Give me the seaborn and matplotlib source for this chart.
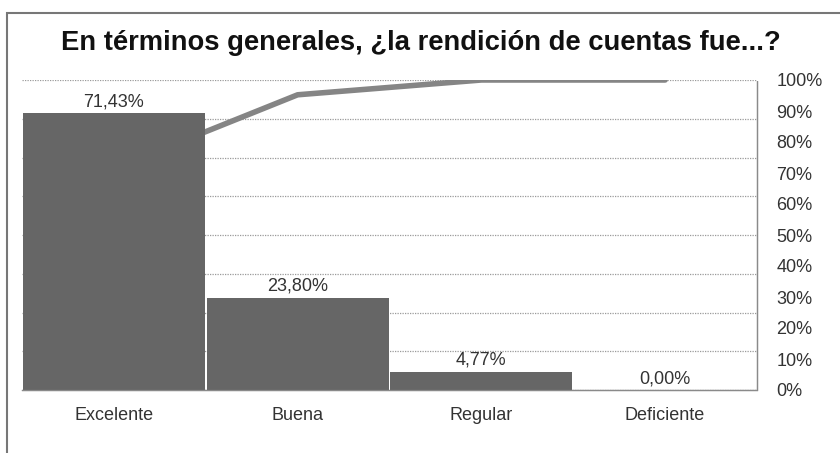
import matplotlib
matplotlib.use("Agg")
import matplotlib.pyplot as plt
import seaborn as sns
import numpy as np
import pandas as pd
from matplotlib.patches import Rectangle

categories = ["Excelente", "Buena", "Regular", "Deficiente"]
percent = [71.43, 23.80, 4.77, 0.00]
cumulative = [71.43, 95.23, 100.00, 100.00]
bar_labels = ["71,43%", "23,80%", "4,77%", "0,00%"]
right_ticks = [0, 10, 20, 30, 40, 50, 60, 70, 80, 90, 100]
right_tick_labels = ["0%", "10%", "20%", "30%", "40%", "50%", "60%", "70%", "80%", "90%", "100%"]
title = "En términos generales, ¿la rendición de cuentas fue...?"

sns.set_theme(style="white")
plt.rcParams["font.family"] = ["Liberation Sans", "DejaVu Sans"]

df = pd.DataFrame({"cat": categories, "pct": percent, "cum": cumulative})

fig = plt.figure(figsize=(8.4, 4.53), dpi=100)
ax = fig.add_axes([22 / 840, 63 / 453, (757 - 22) / 840, (390 - 80) / 453])
ax2 = ax.twinx()

# back axis: cumulative line + grid
ax.set_zorder(1)
ax2.set_zorder(2)
ax2.patch.set_visible(False)

sns.lineplot(data=df, x="cat", y="cum", ax=ax, color="#858585", linewidth=4, sort=False)
ax.set_ylim(0, 100)
ax.yaxis.tick_right()
ax.yaxis.remove_overlapping_locs = False
ax.set_yticks(right_ticks)
ax.set_yticklabels(right_tick_labels, fontsize=13, color="#333333")
ax.tick_params(axis="y", which="both", length=0, pad=14)
ax.set_yticks(np.linspace(0, 100, 9), minor=True)
ax.grid(which="minor", axis="y", linestyle=(0, (1, 1)), color="#9a9a9a", linewidth=0.9)
ax.grid(which="major", axis="y", visible=False)
ax.grid(axis="x", visible=False)
ax.set_xlabel("")
ax.set_ylabel("")

# front axis: bars
sns.barplot(data=df, x="cat", y="pct", ax=ax2, color="#666666", saturation=1,
            width=0.99, edgecolor="none")
ax2.set_ylim(0, 80)
ax2.set_yticks([])
ax2.set_ylabel("")
ax2.set_xlabel("")
ax2.bar_label(ax2.containers[0], labels=bar_labels, fontsize=13, color="#333333", padding=2)

ax.set_xlim(-0.5, 3.5)
ax2.set_xlim(-0.5, 3.5)
ax.tick_params(axis="x", length=0, pad=12, labelsize=13, labelcolor="#333333")
ax2.tick_params(axis="x", length=0, pad=12, labelsize=13, labelcolor="#333333")

for a in (ax, ax2):
    for s in ("top", "left"):
        a.spines[s].set_visible(False)
    for s in ("right", "bottom"):
        a.spines[s].set_visible(True)
        a.spines[s].set_linestyle((0, (1, 1)))
        a.spines[s].set_color("#8a8a8a")
        a.spines[s].set_linewidth(0.9)

fig.text(421 / 840, 1 - 43 / 453, title, ha="center", va="center",
         fontsize=19.7, fontweight="bold", color="#111111")

fig.patches.append(Rectangle((7 / 840, -0.2), 1.2, 1.2 + (1 - 13 / 453) - 1.0,
                             transform=fig.transFigure, fill=False,
                             edgecolor="#777777", linewidth=1.5, zorder=0))

fig.savefig("out.png", dpi=100)
